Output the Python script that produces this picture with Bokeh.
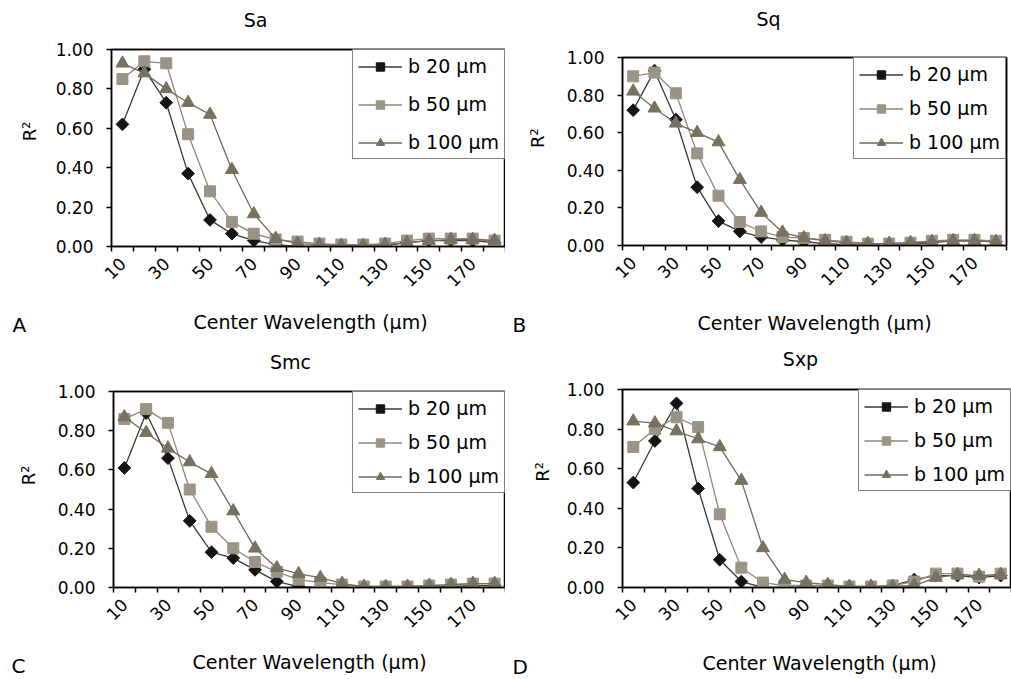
import math
from bokeh.plotting import figure
from bokeh.layouts import column, row
from bokeh.models import (Range1d, FixedTicker, Legend, LegendItem, Label,
                          LinearAxis, NumeralTickFormatter)
from bokeh.embed import file_html
from bokeh.resources import INLINE

# ---------------- data ----------------
CATEGORIES = [10, 20, 30, 40, 50, 60, 70, 80, 90, 100, 110, 120, 130, 140, 150, 160, 170, 180]
TICK_VALUES = [10, 30, 50, 70, 90, 110, 130, 150, 170]
Y_TICKS = [0.0, 0.2, 0.4, 0.6, 0.8, 1.0]
SERIES = ["b 20 µm", "b 50 µm", "b 100 µm"]
PANEL_TITLES = ["Sa", "Sq", "Smc", "Sxp"]
PANEL_LETTERS = ["A", "B", "C", "D"]
X_TITLE = "Center Wavelength (µm)"
Y_TITLE = "R²"

SA_B20 = [0.62, 0.90, 0.73, 0.37, 0.135, 0.065, 0.03, 0.01, 0.0, 0.0, 0.0, 0.0, 0.005, 0.02, 0.03, 0.03, 0.03, 0.02]
SA_B50 = [0.85, 0.94, 0.93, 0.57, 0.28, 0.125, 0.065, 0.035, 0.025, 0.015, 0.01, 0.01, 0.015, 0.03, 0.04, 0.04, 0.04, 0.03]
SA_B100 = [0.93, 0.88, 0.80, 0.73, 0.67, 0.39, 0.165, 0.04, 0.015, 0.01, 0.005, 0.005, 0.01, 0.02, 0.03, 0.035, 0.035, 0.03]

SQ_B20 = [0.72, 0.93, 0.67, 0.31, 0.13, 0.075, 0.045, 0.03, 0.02, 0.01, 0.005, 0.0, 0.0, 0.005, 0.015, 0.025, 0.025, 0.02]
SQ_B50 = [0.90, 0.92, 0.81, 0.49, 0.265, 0.125, 0.075, 0.045, 0.04, 0.03, 0.02, 0.01, 0.01, 0.015, 0.025, 0.03, 0.03, 0.025]
SQ_B100 = [0.82, 0.73, 0.65, 0.60, 0.55, 0.35, 0.175, 0.07, 0.04, 0.025, 0.015, 0.01, 0.01, 0.015, 0.02, 0.025, 0.025, 0.02]

SMC_B20 = [0.61, 0.89, 0.66, 0.34, 0.18, 0.15, 0.09, 0.03, 0.005, 0.0, 0.0, 0.0, 0.0, 0.0, 0.0, 0.005, 0.01, 0.01]
SMC_B50 = [0.86, 0.91, 0.84, 0.50, 0.31, 0.20, 0.13, 0.08, 0.04, 0.025, 0.015, 0.005, 0.005, 0.005, 0.01, 0.015, 0.02, 0.02]
SMC_B100 = [0.87, 0.79, 0.71, 0.64, 0.58, 0.39, 0.20, 0.10, 0.07, 0.05, 0.02, 0.005, 0.005, 0.005, 0.01, 0.015, 0.02, 0.02]

SXP_B20 = [0.53, 0.74, 0.93, 0.50, 0.14, 0.03, 0.0, 0.0, 0.0, 0.0, 0.0, 0.0, 0.01, 0.04, 0.06, 0.06, 0.05, 0.06]
SXP_B50 = [0.71, 0.80, 0.86, 0.81, 0.37, 0.10, 0.025, 0.01, 0.01, 0.01, 0.005, 0.005, 0.01, 0.03, 0.07, 0.07, 0.055, 0.07]
SXP_B100 = [0.84, 0.83, 0.79, 0.75, 0.71, 0.54, 0.20, 0.04, 0.025, 0.015, 0.005, 0.005, 0.005, 0.01, 0.05, 0.065, 0.06, 0.065]

PANEL_DATA = [
    [SA_B20, SA_B50, SA_B100],
    [SQ_B20, SQ_B50, SQ_B100],
    [SMC_B20, SMC_B50, SMC_B100],
    [SXP_B20, SXP_B50, SXP_B100],
]

# ---------------- styles / layout ----------------
FONT = "DejaVu Sans"
LINE_COLORS = ["#3c3a36", "#8e897e", "#6f6a5e"]
MARKER_COLORS = ["#141414", "#9a9487", "#77715f"]
MARKERS = ["square", "square", "triangle"]
MARKER_ANGLES = [math.pi / 4, 0.0, 0.0]
MARKER_SIZES = [9, 11, 13]

TOP_H = 40
# W,H: panel size; LW: y-title strip width; HB: bottom strip height;
# L,R,T,B: chart borders around the plot frame; SP: legend row spacing
GEOM = [
    dict(W=505, H=339, LW=45, HB=39, L=66, R=0, T=9, B=54, SP=16),
    dict(W=506, H=339, LW=45, HB=40, L=72, R=5, T=17, B=54, SP=12),
    dict(W=505, H=340, LW=45, HB=38, L=68, R=0, T=12, B=54, SP=12),
    dict(W=506, H=340, LW=50, HB=38, L=67, R=0, T=10, B=54, SP=12),
]
# text anchors (px) inside the strips, from each strip's bottom-left
TITLE_POS = [(255, 21), (263, 22), (290, 18), (295, 21)]
YTITLE_POS = [(29, 152), (32, 148), (28, 150), (37, 153)]
XTITLE_POS = [(310, 18), (309, 17), (309, 18), (314, 16.5)]
LETTER_POS = [(12, 15), (7, 15), (11, 14), (7, 13)]

boundaries = [c - 5 for c in CATEGORIES] + [CATEGORIES[-1] + 5]


def strip(w, h):
    f = figure(width=w, height=h, x_range=Range1d(0, w), y_range=Range1d(0, h),
               x_axis_type=None, y_axis_type=None, min_border=0,
               output_backend="svg", toolbar_location=None, tools="")
    f.outline_line_color = None
    f.background_fill_color = "white"
    f.border_fill_color = "white"
    f.xgrid.visible = False
    f.ygrid.visible = False
    return f


def add_text(f, pos, text, size, align="center", angle=0.0):
    f.add_layout(Label(x=pos[0], y=pos[1], text=text, text_font=FONT,
                       text_font_size=size, text_align=align,
                       text_baseline="middle", text_color="black", angle=angle))


def frame_axis(p, side):
    ax = LinearAxis(ticker=FixedTicker(ticks=[]), axis_line_color="black",
                    axis_line_width=1.5, major_tick_line_color=None,
                    minor_tick_line_color=None, major_tick_out=0,
                    major_tick_in=0, minor_tick_out=0, minor_tick_in=0,
                    major_label_standoff=0)
    p.add_layout(ax, side)


def make_chart(i):
    g = GEOM[i]
    p = figure(width=g["W"] - g["LW"], height=g["H"] - TOP_H - g["HB"],
               min_border_left=g["L"], min_border_right=g["R"],
               min_border_top=g["T"], min_border_bottom=g["B"],
               x_range=Range1d(boundaries[0], boundaries[-1]),
               y_range=Range1d(0, 1),
               output_backend="svg", toolbar_location=None, tools="")
    p.xgrid.visible = False
    p.ygrid.visible = False
    p.background_fill_color = "white"
    p.border_fill_color = "white"
    p.outline_line_color = "black"
    p.outline_line_width = 1.5

    xa = p.below[0]
    ya = p.left[0]

    xa.ticker = FixedTicker(ticks=TICK_VALUES, minor_ticks=boundaries)
    xa.major_tick_line_color = None
    xa.minor_tick_line_color = "black"
    xa.minor_tick_line_width = 1.5
    xa.minor_tick_out = 5
    xa.minor_tick_in = 0
    xa.axis_line_width = 1.5
    xa.axis_line_color = "black"
    xa.major_label_orientation = math.pi / 4
    xa.major_label_standoff = 8
    xa.major_label_text_font = FONT
    xa.major_label_text_font_size = "17px"
    xa.major_label_text_color = "black"

    ya.ticker = FixedTicker(ticks=Y_TICKS)
    ya.formatter = NumeralTickFormatter(format="0.00")
    ya.major_tick_out = 5
    ya.major_tick_in = 0
    ya.major_tick_line_width = 1.5
    ya.minor_tick_line_color = None
    ya.axis_line_width = 1.5
    ya.axis_line_color = "black"
    ya.major_label_standoff = 13
    ya.major_label_text_font = FONT
    ya.major_label_text_font_size = "17px"
    ya.major_label_text_color = "black"

    frame_axis(p, "above")
    frame_axis(p, "right")

    items = []
    for s in range(3):
        ys = PANEL_DATA[i][s]
        lr = p.line(CATEGORIES, ys, line_color=LINE_COLORS[s], line_width=1.3)
        mr = p.scatter(CATEGORIES, ys, marker=MARKERS[s], size=MARKER_SIZES[s],
                       angle=MARKER_ANGLES[s],
                       fill_color=MARKER_COLORS[s], line_color=MARKER_COLORS[s])
        items.append(LegendItem(label=SERIES[s], renderers=[lr, mr]))

    leg = Legend(items=items, location="top_right", margin=0, padding=5,
                 spacing=g["SP"], glyph_width=44, glyph_height=21, label_height=21,
                 label_standoff=6, label_text_font=FONT,
                 label_text_font_size="19px", label_text_color="black",
                 border_line_color="black", border_line_width=1.5,
                 background_fill_color="white", background_fill_alpha=1.0)
    p.add_layout(leg)
    return p


def make_panel(i):
    g = GEOM[i]
    top = strip(g["W"], TOP_H)
    add_text(top, TITLE_POS[i], PANEL_TITLES[i], "19px")
    left = strip(g["LW"], g["H"] - TOP_H - g["HB"])
    add_text(left, YTITLE_POS[i], Y_TITLE, "18px", angle=math.pi / 2)
    bottom = strip(g["W"], g["HB"])
    add_text(bottom, XTITLE_POS[i], X_TITLE, "19px")
    add_text(bottom, LETTER_POS[i], PANEL_LETTERS[i], "20px", align="left")
    chart = make_chart(i)
    return column(top, row(left, chart, spacing=0), bottom, spacing=0)


panels = [make_panel(i) for i in range(4)]
layout = column(row(panels[0], panels[1], spacing=0),
                row(panels[2], panels[3], spacing=0), spacing=0)

open("out.html", "w").write(file_html(layout, INLINE))
